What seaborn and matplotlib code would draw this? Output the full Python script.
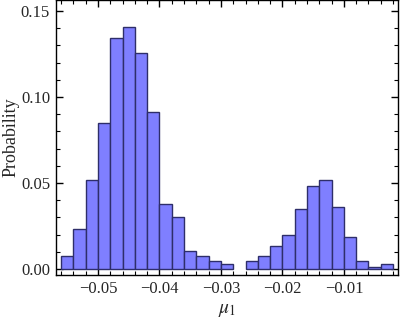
import numpy as np
import matplotlib
matplotlib.use("Agg")
import matplotlib.pyplot as plt
from matplotlib.ticker import MultipleLocator
import seaborn as sns

# histogram bins of mu_1 (width 0.002) and probability per bin
bin_left = [-0.056, -0.054, -0.052, -0.050, -0.048, -0.046, -0.044, -0.042, -0.040,
            -0.038, -0.036, -0.034, -0.032, -0.030, -0.028, -0.026, -0.024, -0.022,
            -0.020, -0.018, -0.016, -0.014, -0.012, -0.010, -0.008, -0.006, -0.004]
prob = [0.0074, 0.0231, 0.0516, 0.0847, 0.1341, 0.1405, 0.1254, 0.0911, 0.0376,
        0.0300, 0.0103, 0.0077, 0.0045, 0.0027, 0.0, 0.0045, 0.0074, 0.0134,
        0.0196, 0.0347, 0.0483, 0.0516, 0.0359, 0.0184, 0.0045, 0.0013, 0.0027]
width = 0.002

sns.set_style("ticks")
plt.rcParams['font.family'] = ['Liberation Serif', 'DejaVu Serif']
plt.rcParams['mathtext.fontset'] = 'stix'

edges = list(bin_left) + [bin_left[-1] + width]
centers = [b + width / 2 for b in bin_left]

fig = plt.figure(figsize=(4.0, 3.19), dpi=100)
ax = fig.add_axes([0.139, 0.138, 0.856, 0.862])

sns.histplot(x=centers, weights=prob, bins=edges, stat="count", ax=ax,
             color="#7f7fff", alpha=1.0, edgecolor="#2e2e6a", linewidth=1.0)
# empty bins are not drawn at all
for p in ax.patches:
    if p.get_height() == 0:
        p.set_visible(False)

ax.set_xlim(-0.0569, -0.0012)
ax.set_ylim(-0.0035, 0.1564)
ax.xaxis.set_major_locator(MultipleLocator(0.01))
ax.xaxis.set_minor_locator(MultipleLocator(0.002))
ax.yaxis.set_major_locator(MultipleLocator(0.05))
ax.yaxis.set_minor_locator(MultipleLocator(0.01))
ax.xaxis.set_major_formatter(lambda v, p: f"{v:.2f}".replace("-", "\u2212"))
ax.yaxis.set_major_formatter(lambda v, p: f"{v:.2f}")

ax.tick_params(which="both", direction="in", top=True, right=True, color="black")
ax.tick_params(which="major", length=5, width=1.0, labelsize=12, pad=4)
ax.tick_params(which="minor", length=3, width=0.8)
for s in ax.spines.values():
    s.set_visible(True)
    s.set_linewidth(1.0)
    s.set_color("black")

ax.set_ylabel("Probability", fontsize=13, labelpad=1)
ax.set_xlabel(r"$\mu_1$", fontsize=14, labelpad=4)

fig.savefig("out.png", dpi=100)
